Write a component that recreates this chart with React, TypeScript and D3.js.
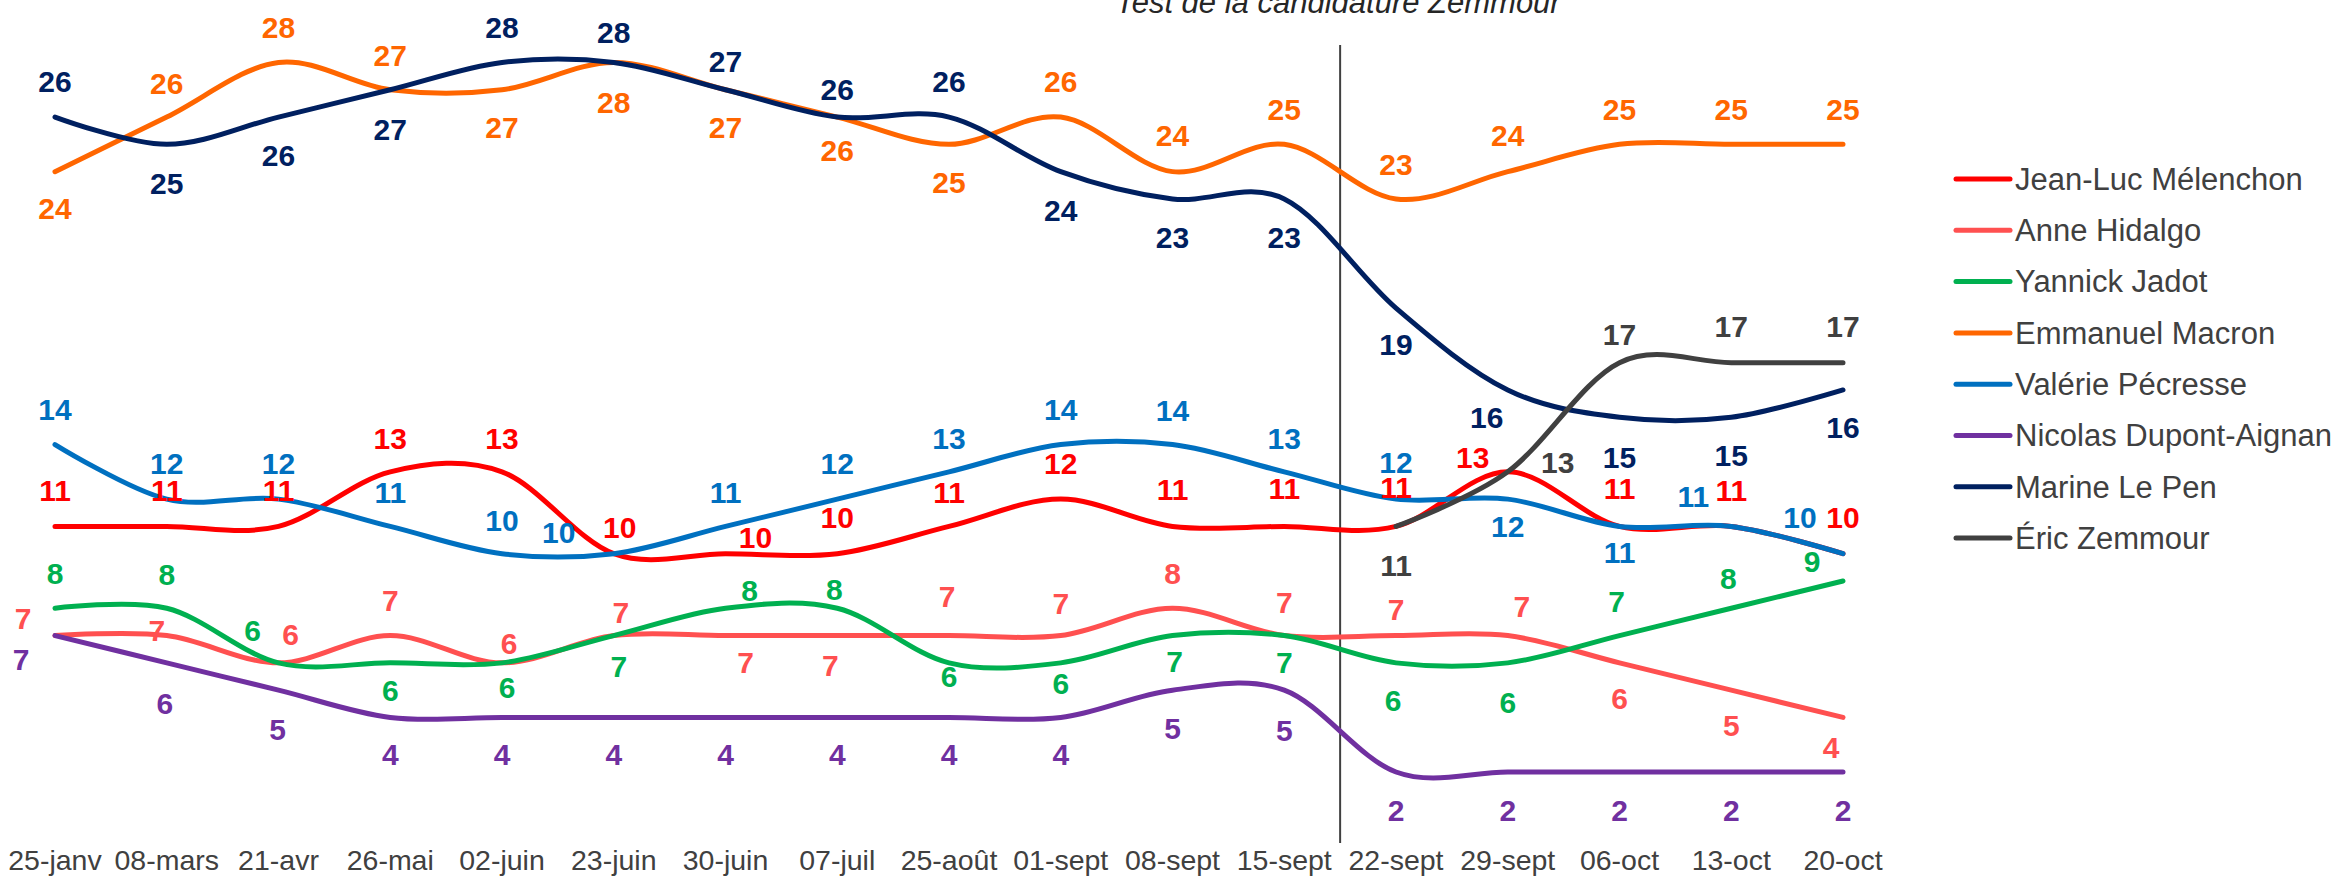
import React from "react";
import * as d3 from "d3";

const categories = ["25-janv","08-mars","21-avr","26-mai","02-juin","23-juin","30-juin","07-juil","25-août","01-sept","08-sept","15-sept","22-sept","29-sept","06-oct","13-oct","20-oct"];

const melenchon = [11,11,11,13,13,10,10,10,11,12,11,11,11,13,11,11,10];
const hidalgo = [7,7,6,7,6,7,7,7,7,7,8,7,7,7,6,5,4];
const jadot = [8,8,6,6,6,7,8,8,6,6,7,7,6,6,7,8,9];
const macron = [24,26,28,27,27,28,27,26,25,26,24,25,23,24,25,25,25];
const pecresse = [14,12,12,11,10,10,11,12,13,14,14,13,12,12,11,11,10];
const dupontAignan = [7,6,5,4,4,4,4,4,4,4,5,5,2,2,2,2,2];
const lePen = [26,25,26,27,28,28,27,26,26,24,23,23,19,16,15,15,16];
const zemmour: (number | null)[] = [null,null,null,null,null,null,null,null,null,null,null,null,11,13,17,17,17];

const seriesNames = ["Jean-Luc Mélenchon","Anne Hidalgo","Yannick Jadot","Emmanuel Macron","Valérie Pécresse","Nicolas Dupont-Aignan","Marine Le Pen","Éric Zemmour"];
const seriesColors = ["#FF0000","#FF5050","#00B050","#FF6600","#0070C0","#7030A0","#002060","#404040"];

// label placement (px offsets of the label centre from its point)
const melenchonLabelDy = [-36,-36,-36,-34,-34,-26,-16,-36,-34,-36,-37,-38,-39,-15,-38,-36,-36];
const melenchonLabelDx = [0,0,0,0,0,6,30,0,0,0,0,0,0,-35,0,0,0];
const hidalgoLabelDy = [-17,-5,-29,-35,-20,-23,27,30,-39,-32,-35,-33,-26,-29,35,35,30];
const hidalgoLabelDx = [-32,-10,12,0,7,7,20,-7,-2,0,0,0,0,14,0,0,-12];
const jadotLabelDy = [-35,-34,-33,27,24,31,-18,-19,13,20,26,27,37,39,-34,-30,-20];
const jadotLabelDx = [0,0,-26,0,5,5,24,-3,0,0,2,0,-3,0,-3,-3,-31];
const macronLabelDy = [37,-34,-35,-35,37,40,37,33,38,-36,-36,-35,-35,-36,-35,-35,-35];
const macronLabelDx = [0,0,0,0,0,0,0,0,0,0,0,0,0,0,0,0,0];
const pecresseLabelDy = [-35,-36,-36,-34,-33,-21,-34,-36,-34,-35,-34,-34,-37,27,26,-30,-36];
const pecresseLabelDx = [0,0,0,0,0,-55,0,0,0,0,0,0,0,0,0,-38,-43];
const dupontLabelDy = [24,40,39,37,37,37,37,37,37,37,38,40,38,38,38,38,38];
const dupontLabelDx = [-34,-2,-1,0,0,0,0,0,0,0,0,0,0,0,0,0,0];
const lePenLabelDy = [-36,39,38,39,-35,-30,-29,-28,-36,39,38,38,36,27,40,38,37];
const lePenLabelDx = [0,0,0,0,0,0,0,0,0,0,0,0,0,-21,0,0,0];
const zemmourLabelDy = [0,0,0,0,0,0,0,0,0,0,0,0,39,-10,-28,-36,-36];
const zemmourLabelDx = [0,0,0,0,0,0,0,0,0,0,0,0,0,50,0,0,0];

const titleText = "Test de la candidature Zemmour";
const splitAfter = "15-sept";

const W = 2346;
const H = 876;

export default function App() {
  const x = d3.scalePoint<string>().domain(categories).range([55, 1843]);
  const y = d3.scaleLinear().domain([0, 30]).range([826.6, 826.6 - 30 * 27.29]);

  const allSeries = [melenchon, hidalgo, jadot, macron, pecresse, dupontAignan, lePen, zemmour] as (number | null)[][];
  const allDy = [melenchonLabelDy, hidalgoLabelDy, jadotLabelDy, macronLabelDy, pecresseLabelDy, dupontLabelDy, lePenLabelDy, zemmourLabelDy];
  const allDx = [melenchonLabelDx, hidalgoLabelDx, jadotLabelDx, macronLabelDx, pecresseLabelDx, dupontLabelDx, lePenLabelDx, zemmourLabelDx];

  const line = d3
    .line<[string, number | null]>()
    .defined((d) => d[1] !== null)
    .x((d) => x(d[0]) as number)
    .y((d) => y(d[1] as number))
    .curve(d3.curveCardinal.tension(0));

  const step = x.step();
  const splitX = (x(splitAfter) as number) + step / 2;

  const font = "'Liberation Sans', Arial, sans-serif";
  const labelSize = 30;
  const legendTop = 179;
  const legendStep = 51.3;

  return (
    <svg width={W} height={H} style={{ position: "absolute", left: 0, top: 0, background: "#fff" }} fontFamily={font}>
      <rect x={0} y={0} width={W} height={H} fill="#fff" />
      <text x={splitX - 2} y={13} textAnchor="middle" fontStyle="italic" fontSize={31} fill="#262626">{titleText}</text>
      <line x1={splitX} x2={splitX} y1={45} y2={843} stroke="#404040" strokeWidth={2} />
      {allSeries.map((s, si) => (
        <path
          key={"l" + si}
          d={line(categories.map((c, i) => [c, s[i]] as [string, number | null])) || ""}
          fill="none"
          stroke={seriesColors[si]}
          strokeWidth={5}
          strokeLinecap="round"
          strokeLinejoin="round"
        />
      ))}
      {allSeries.map((s, si) =>
        categories.map((c, i) => {
          const v = s[i];
          if (v === null) return null;
          const cx = (x(c) as number) + allDx[si][i];
          const cy = y(v) + allDy[si][i];
          return (
            <text key={"t" + si + "-" + i} x={cx} y={cy + labelSize * 0.358} textAnchor="middle" fontWeight="bold" fontSize={labelSize} fill={seriesColors[si]}>
              {Math.round(v)}
            </text>
          );
        })
      )}
      {categories.map((c) => (
        <text key={"x" + c} x={x(c) as number} y={870} textAnchor="middle" fontSize={28.5} fill="#404040">{c}</text>
      ))}
      {seriesNames.map((n, i) => {
        const ly = legendTop + i * legendStep;
        return (
          <g key={"lg" + i}>
            <line x1={1956} x2={2010} y1={ly} y2={ly} stroke={seriesColors[i]} strokeWidth={5} strokeLinecap="round" />
            <text x={2015} y={ly + 10.8} fontSize={31} fill="#404040">{n}</text>
          </g>
        );
      })}
    </svg>
  );
}
